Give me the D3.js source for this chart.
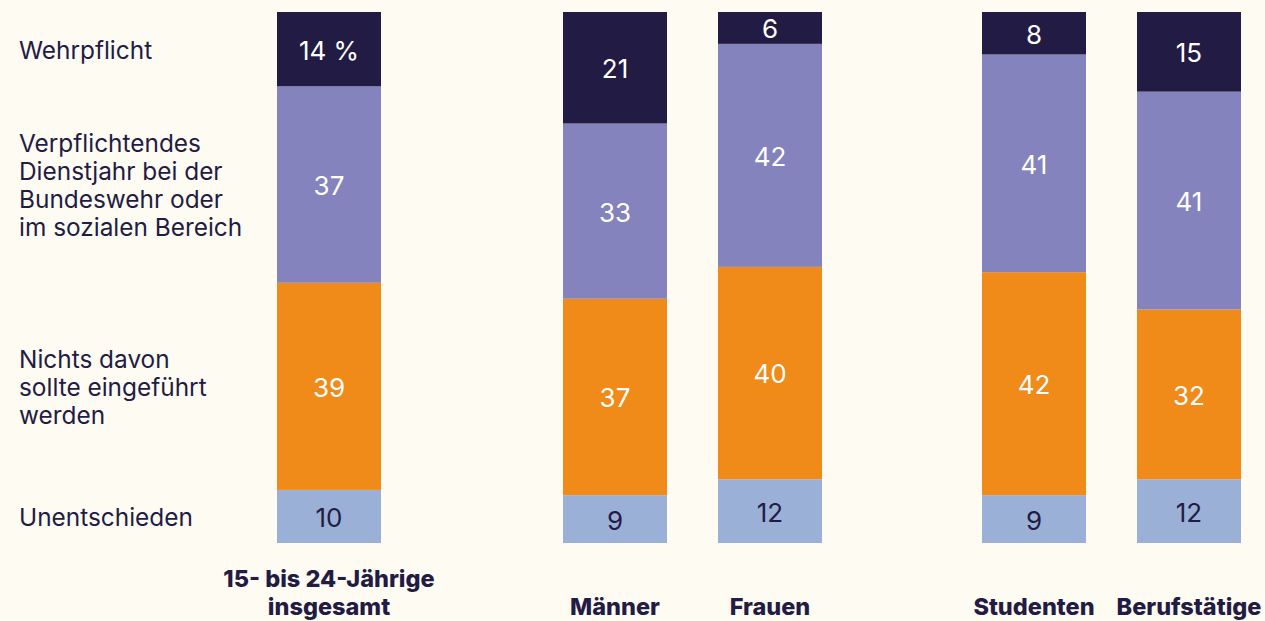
<!DOCTYPE html>
<html>
<head>
<meta charset="utf-8">
<script src="https://cdn.jsdelivr.net/npm/d3@7"></script>
<style>
  body { margin: 0; background: #fefbf3; }
  svg { display: block; font-family: Inter, "Noto Sans", sans-serif; }
</style>
</head>
<body>
<svg width="1265" height="621"></svg>
<script>
// answer categories, Wehrpflicht sits on top of each bar
let answers = ["Wehrpflicht", "Dienstjahr", "Nichts", "Unentschieden"];
let answerLabels = [
    ["Wehrpflicht"],
    ["Verpflichtendes", "Dienstjahr bei der", "Bundeswehr oder", "im sozialen Bereich"],
    ["Nichts davon", "sollte eingeführt", "werden"],
    ["Unentschieden"]
];

// groups of respondents
let groups = ["gesamt", "Männer", "Frauen", "Studenten", "Berufstätige"];
let groupLabels = [
    ["15- bis 24-Jährige", "insgesamt"],
    ["Männer"],
    ["Frauen"],
    ["Studenten"],
    ["Berufstätige"]
];

// percent values per group, in order of answers
let wehrpflicht   = [14, 21, 6, 8, 15];
let dienstjahr    = [37, 33, 42, 41, 41];
let nichts        = [39, 37, 40, 42, 32];
let unentschieden = [10, 9, 12, 9, 12];

let colors = ["#221c44", "#8483bd", "#f08a19", "#9bb0d6"];
let textColors = ["#ffffff", "#ffffff", "#ffffff", "#221c44"];

let svg = d3.select("svg"),
    width = 1265,
    height = 621;

// build rows
let rows = groups.map(function (g, i) {
    return {
        group: g,
        Wehrpflicht: wehrpflicht[i],
        Dienstjahr: dienstjahr[i],
        Nichts: nichts[i],
        Unentschieden: unentschieden[i]
    };
});

// stack from the bottom: Unentschieden first
let stack = d3.stack().keys(answers.slice().reverse());
let series = stack(rows);

let y = d3.scaleLinear().domain([0, 100]).range([543, 12]);

// bars stand in three groups, so use an ordinal scale for the left edges
let x = d3.scaleOrdinal().domain(groups).range([277, 563, 718, 982, 1137]);
let barWidth = 104;

let layer = svg.append("g")
    .selectAll("g")
    .data(series)
    .enter().append("g")
    .attr("fill", function (d) { return colors[answers.indexOf(d.key)]; });

layer.selectAll("rect")
    .data(function (d) { return d; })
    .enter().append("rect")
    .attr("x", function (d) { return x(d.data.group); })
    .attr("y", function (d) { return y(d[1]); })
    .attr("width", barWidth)
    .attr("height", function (d) { return y(d[0]) - y(d[1]); });

// value labels
layer.selectAll("text")
    .data(function (d) { return d.map(function (p) { p.key = d.key; return p; }); })
    .enter().append("text")
    .attr("x", function (d) { return x(d.data.group) + barWidth / 2; })
    .attr("y", function (d) { return (y(d[0]) + y(d[1])) / 2; })
    .attr("dy", "0.4em")
    .attr("text-anchor", "middle")
    .attr("font-size", 26)
    .attr("fill", function (d) { return textColors[answers.indexOf(d.key)]; })
    .text(function (d, i) {
        let v = d[1] - d[0];
        return (i === 0 && d.key === "Wehrpflicht") ? v + " %" : v;
    });

// left legend labels, centred on the first bar's segments
let lineHeight = 28;
svg.append("g")
    .selectAll("text")
    .data(answers)
    .enter().append("text")
    .attr("x", 19)
    .attr("font-size", 24.4)
    .attr("fill", "#221c44")
    .each(function (key, i) {
        let s = series.find(function (d) { return d.key === key; })[0];
        let mid = (y(s[0]) + y(s[1])) / 2 + 1;
        let lines = answerLabels[i];
        let top = mid - (lines.length - 1) * lineHeight / 2;
        d3.select(this).selectAll("tspan")
            .data(lines)
            .enter().append("tspan")
            .attr("x", 19)
            .attr("y", function (l, j) { return top + j * lineHeight; })
            .attr("dy", "0.36em")
            .text(function (l) { return l; });
    });

// group labels below the bars
svg.append("g")
    .selectAll("text")
    .data(groups)
    .enter().append("text")
    .attr("text-anchor", "middle")
    .attr("font-size", 23.5)
    .attr("font-weight", 800)
    .attr("fill", "#221c44")
    .each(function (g, i) {
        let lines = groupLabels[i];
        let cx = x(g) + barWidth / 2;
        d3.select(this).selectAll("tspan")
            .data(lines)
            .enter().append("tspan")
            .attr("x", cx)
            .attr("y", function (l, j) { return 615 - (lines.length - 1 - j) * 28; })
            .text(function (l) { return l; });
    });
</script>
</body>
</html>
